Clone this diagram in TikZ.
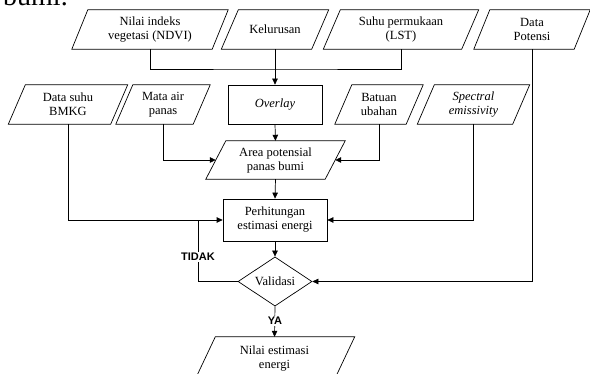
\documentclass[tikz,border=0pt]{standalone}
\usepackage{fontspec}
\setmainfont{Liberation Serif}
\newfontfamily\lblfont{Liberation Sans}
\usetikzlibrary{shapes.geometric,arrows.meta}
\newcommand\parabox[2]{\draw[shapeline] ([xshift=#2]#1.north west) -- (#1.north east) -- ([xshift=-#2]#1.south east) -- (#1.south west) -- cycle;}
\begin{document}
\begin{tikzpicture}[x=1pt,y=-1pt,
  shapeline/.style={line width=0.7pt},
  txt/.style={font=\fontsize{12.5}{14}\selectfont, align=center, inner sep=0pt},
  pbox/.style={txt, minimum height=39pt},
  rbox/.style={txt, draw, line width=0.7pt},
  conn/.style={line width=0.7pt},
  arr/.style={conn, -{Triangle[length=6pt,width=5.5pt]}},
  yn/.style={font=\lblfont\bfseries\fontsize{11}{12}\selectfont, fill=white, inner sep=1pt}]
\useasboundingbox (0,0) rectangle (590,374);
\clip (0,0) rectangle (590,374);
% cut-off heading text
\node[anchor=base west, inner sep=0pt, font=\fontsize{28}{30}\selectfont] (hdr) at (3,6) {bumi.};
% top row
\node[pbox, minimum width=156pt] (ndvi) at (150,29.5) {Nilai indeks\\vegetasi (NDVI)};
\node[pbox, minimum width=107pt] (kel) at (275,29.5) {Kelurusan};
\node[pbox, minimum width=155pt] (suhu) at (401,29.5) {Suhu permukaan\\(LST)};
\node[pbox, minimum width=116pt] (pot) at (532,29.5) {Data\\Potensi};
\parabox{ndvi}{16pt}
\parabox{kel}{17pt}
\parabox{suhu}{17pt}
\parabox{pot}{16pt}
% second row
\node[pbox, minimum width=119pt] (bmkg) at (68,104.5) {Data suhu\\BMKG};
\node[pbox, minimum width=94pt] (mata) at (163,104.5) {Mata air\\panas};
\node[rbox, minimum width=94pt, minimum height=39pt] (over) at (275,104.5) {\itshape Overlay};
\node[pbox, minimum width=88pt] (bat) at (379,104.5) {Batuan\\ubahan};
\node[pbox, minimum width=112pt] (spec) at (473.5,104.5) {\itshape Spectral\\\itshape emissivity};
\parabox{bmkg}{17pt}
\parabox{mata}{17pt}
\parabox{bat}{17pt}
\parabox{spec}{17pt}
% area
\node[txt, minimum width=139pt, minimum height=38pt] (area) at (275.5,160) {Area potensial\\panas bumi};
\parabox{area}{20pt}
% perhitungan
\node[rbox, minimum width=104pt, minimum height=42pt] (hit) at (275,220) {Perhitungan\\estimasi energi};
% validasi
\node[diamond, draw, line width=0.7pt, minimum width=74pt, minimum height=47pt, inner sep=0pt, font=\fontsize{12.5}{14}\selectfont] (val) at (275,281.5) {Validasi};
% output
\node[txt, minimum width=160pt, minimum height=44pt] (out) at (274.5,359) {Nilai estimasi\\energi};
\parabox{out}{21pt}
% connectors
\coordinate (jn) at (275,69);
\draw[conn] (ndvi.south) |- (jn) -| (suhu.south);
\draw[arr] (kel.south) -- (over.north);
\draw[arr] (over.south) -- (area.north);
\draw[arr] (mata.south) |- ([xshift=10pt]area.west);
\draw[arr] (bat.south) |- ([xshift=-10pt]area.east);
\draw[arr] (area.south) -- (hit.north);
\draw[arr] (bmkg.south) |- (hit.west);
\draw[arr] (spec.south) |- (hit.east);
\draw[arr] (hit.south) -- (val.north);
\draw[arr] (pot.south) |- (val.east);
\coordinate (tj) at (198,220);
\draw[conn] (val.west) -| (tj);
\node[yn] (tidak) at (198,257) {TIDAK};
\draw[arr] (val.south) -- (out.north);
\node[yn] (ya) at (275,321) {YA};
\end{tikzpicture}
\end{document}
